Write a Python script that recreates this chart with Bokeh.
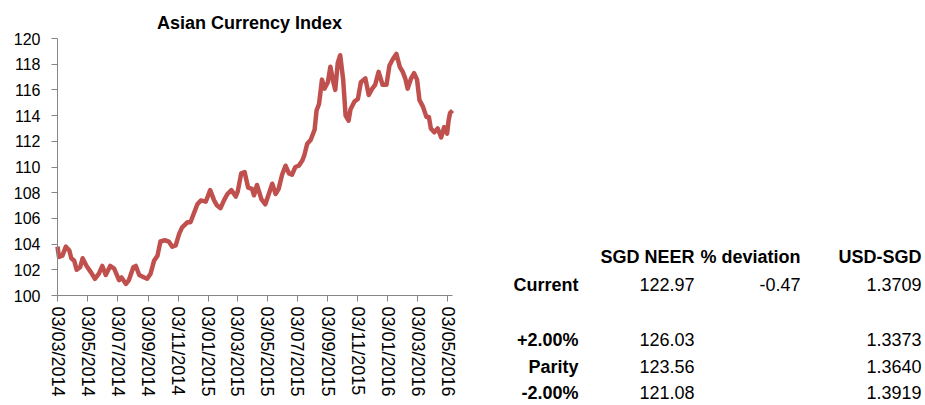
import pandas as pd
from bokeh.plotting import figure
from bokeh.models import Range1d, FixedTicker, DatetimeTickFormatter, Label
from bokeh.embed import file_html
from bokeh.resources import INLINE

# ---------------- data ----------------
dates = [
    "2014-03-03", "2014-03-06", "2014-03-13", "2014-03-20", "2014-03-27", "2014-03-31",
    "2014-04-06", "2014-04-11", "2014-04-18", "2014-04-23", "2014-05-01", "2014-05-10",
    "2014-05-18", "2014-05-26", "2014-06-02", "2014-06-09", "2014-06-18", "2014-06-26",
    "2014-07-06", "2014-07-11", "2014-07-20", "2014-07-26", "2014-08-04", "2014-08-09",
    "2014-08-16", "2014-08-26", "2014-09-01", "2014-09-08", "2014-09-15", "2014-09-22",
    "2014-09-28", "2014-10-07", "2014-10-15", "2014-10-22", "2014-10-29", "2014-11-05",
    "2014-11-11", "2014-11-22", "2014-11-28", "2014-12-05", "2014-12-12", "2014-12-19",
    "2014-12-29", "2015-01-07", "2015-01-15", "2015-01-21", "2015-01-28", "2015-02-04",
    "2015-02-11", "2015-02-19", "2015-02-28", "2015-03-04", "2015-03-11", "2015-03-18",
    "2015-03-25", "2015-04-02", "2015-04-06", "2015-04-12", "2015-04-21", "2015-04-29",
    "2015-05-06", "2015-05-13", "2015-05-20", "2015-05-26", "2015-06-02", "2015-06-09",
    "2015-06-16", "2015-06-22", "2015-06-29", "2015-07-06", "2015-07-13", "2015-07-17",
    "2015-07-23", "2015-07-30", "2015-08-07", "2015-08-11", "2015-08-16", "2015-08-22",
    "2015-08-27", "2015-09-03", "2015-09-08", "2015-09-14", "2015-09-18", "2015-09-23",
    "2015-09-28", "2015-10-04", "2015-10-09", "2015-10-15", "2015-10-19", "2015-10-27",
    "2015-11-03", "2015-11-09", "2015-11-18", "2015-11-25", "2015-12-02", "2015-12-08",
    "2015-12-15", "2015-12-23", "2015-12-31", "2016-01-06", "2016-01-13", "2016-01-20",
    "2016-01-27", "2016-02-02", "2016-02-07", "2016-02-12", "2016-02-19", "2016-02-25",
    "2016-03-02", "2016-03-07", "2016-03-14", "2016-03-21", "2016-03-26", "2016-03-30",
    "2016-04-06", "2016-04-13", "2016-04-20", "2016-04-26", "2016-05-02", "2016-05-05",
    "2016-05-08", "2016-05-13",
]
index_values = [
    103.8, 103.0, 103.1, 103.8, 103.5, 102.9,
    102.7, 102.0, 102.2, 102.9, 102.3, 101.8,
    101.3, 101.7, 102.3, 101.6, 102.3, 102.1,
    101.2, 101.4, 100.9, 101.2, 102.2, 102.3,
    101.6, 101.4, 101.3, 101.7, 102.7, 103.1,
    104.2, 104.3, 104.2, 103.8, 103.9, 104.8,
    105.3, 105.7, 105.7, 106.4, 107.1, 107.4,
    107.3, 108.2, 107.4, 107.0, 106.8, 107.4,
    107.9, 108.2, 107.7, 108.1, 109.5, 109.6,
    108.4, 108.3, 107.8, 108.6, 107.5, 107.1,
    107.9, 108.7, 107.9, 108.3, 109.4, 110.1,
    109.5, 109.4, 110.0, 110.1, 110.5, 110.9,
    111.8, 112.1, 112.9, 114.4, 114.9, 116.8,
    116.1, 116.6, 117.8, 116.6, 116.0, 118.1,
    118.7, 116.8, 114.0, 113.6, 114.5, 115.1,
    115.3, 116.6, 116.9, 115.6, 116.1, 116.4,
    117.4, 116.4, 116.4, 117.9, 118.4, 118.8,
    117.8, 117.4, 116.9, 116.1, 116.9, 117.3,
    116.8, 115.2, 114.7, 113.9, 113.9, 113.0,
    112.7, 113.0, 112.3, 113.1, 112.6, 113.6,
    114.2, 114.4,
]
tick_labels = [
    "03/03/2014", "03/05/2014", "03/07/2014", "03/09/2014", "03/11/2014",
    "03/01/2015", "03/03/2015", "03/05/2015", "03/07/2015", "03/09/2015",
    "03/11/2015", "03/01/2016", "03/03/2016", "03/05/2016",
]
y_ticks = [100, 102, 104, 106, 108, 110, 112, 114, 116, 118, 120]
title_text = "Asian Currency Index"

table_headers = ["SGD NEER", "% deviation", "USD-SGD"]
row_labels = ["Current", "+2.00%", "Parity", "-2.00%"]
sgd_neer = ["122.97", "126.03", "123.56", "121.08"]
pct_deviation = ["-0.47", "", "", ""]
usd_sgd = ["1.3709", "1.3373", "1.3640", "1.3919"]

# ---------------- geometry / styles ----------------
FONT = "Liberation Sans"
LINE_COLOR = "#c0504d"
AXIS_COLOR = "#868686"
W, H = 925, 405
FR_L, FR_R, FR_T, FR_B = 57, 452, 38, 295  # plot area edges in canvas pixels

x = pd.to_datetime(dates)
ms0 = pd.Timestamp(dates[0]).timestamp() * 1000
ms1 = pd.Timestamp(dates[-1]).timestamp() * 1000
ms_per_px = (ms1 - ms0) / (FR_R - FR_L)
y_lo, y_hi = y_ticks[0], y_ticks[-1]
y_per_px = (y_hi - y_lo) / (FR_B - FR_T)

p = figure(
    width=W, height=H, x_axis_type="datetime",
    x_range=Range1d(ms0 - FR_L * ms_per_px, ms0 + (W - FR_L) * ms_per_px),
    y_range=Range1d(y_lo - (H - FR_B) * y_per_px, y_hi + FR_T * y_per_px),
    output_backend="svg", toolbar_location=None,
    min_border_left=0, min_border_right=0, min_border_top=0, min_border_bottom=0,
)
p.outline_line_color = None
p.xgrid.visible = False
p.ygrid.visible = False

p.line(x, index_values, line_width=4.5, line_color=LINE_COLOR, line_join="round")

for ax in (p.xaxis[0], p.yaxis[0]):
    ax.axis_line_color = AXIS_COLOR
    ax.major_tick_line_color = AXIS_COLOR
    ax.minor_tick_line_color = None
    ax.major_tick_in = 0
    ax.major_tick_out = 6
    ax.major_label_text_color = "#000000"
    ax.major_label_text_font = FONT

p.yaxis.fixed_location = ms0
p.yaxis.bounds = (y_lo, y_hi)
p.yaxis.ticker = FixedTicker(ticks=y_ticks)
p.yaxis.major_label_text_font_size = "16px"
p.yaxis.major_label_standoff = 11

tick_ms = [int(d.timestamp() * 1000) for d in pd.to_datetime(tick_labels, format="%d/%m/%Y")]
p.xaxis.fixed_location = y_lo
p.xaxis.bounds = (ms0, ms1)
p.xaxis.ticker = FixedTicker(ticks=tick_ms)
fmt = "%d/%m/%Y"
p.xaxis.formatter = DatetimeTickFormatter(
    days=fmt, months=fmt, years=fmt, hours=fmt, hourmin=fmt, minutes=fmt,
    minsec=fmt, seconds=fmt, milliseconds=fmt, microseconds=fmt,
)
p.xaxis.major_label_orientation = "vertical"
p.xaxis.major_label_text_font_size = "18px"
p.xaxis.major_label_standoff = 5


def add_text(px, py, txt, bold, size="18px", align="right"):
    if not txt:
        return
    p.add_layout(Label(
        x=px, y=H - py, x_units="screen", y_units="screen", text=txt,
        text_font=FONT, text_font_size=size,
        text_font_style="bold" if bold else "normal",
        text_align=align, text_baseline="middle", text_color="#000000",
    ))


# title
add_text(249, 22, title_text, True, size="18px", align="center")

# table
col_right = [694, 800, 921]
label_right = 578
header_y = 256
row_y = [284, 339, 366, 392]
for cx, h in zip(col_right, table_headers):
    add_text(cx, header_y, h, True)
for ry, lab in zip(row_y, row_labels):
    add_text(label_right, ry, lab, True)
for cx, vals in zip(col_right, [sgd_neer, pct_deviation, usd_sgd]):
    for ry, v in zip(row_y, vals):
        add_text(cx, ry, v, False)

open("out.html", "w").write(file_html(p, INLINE))
